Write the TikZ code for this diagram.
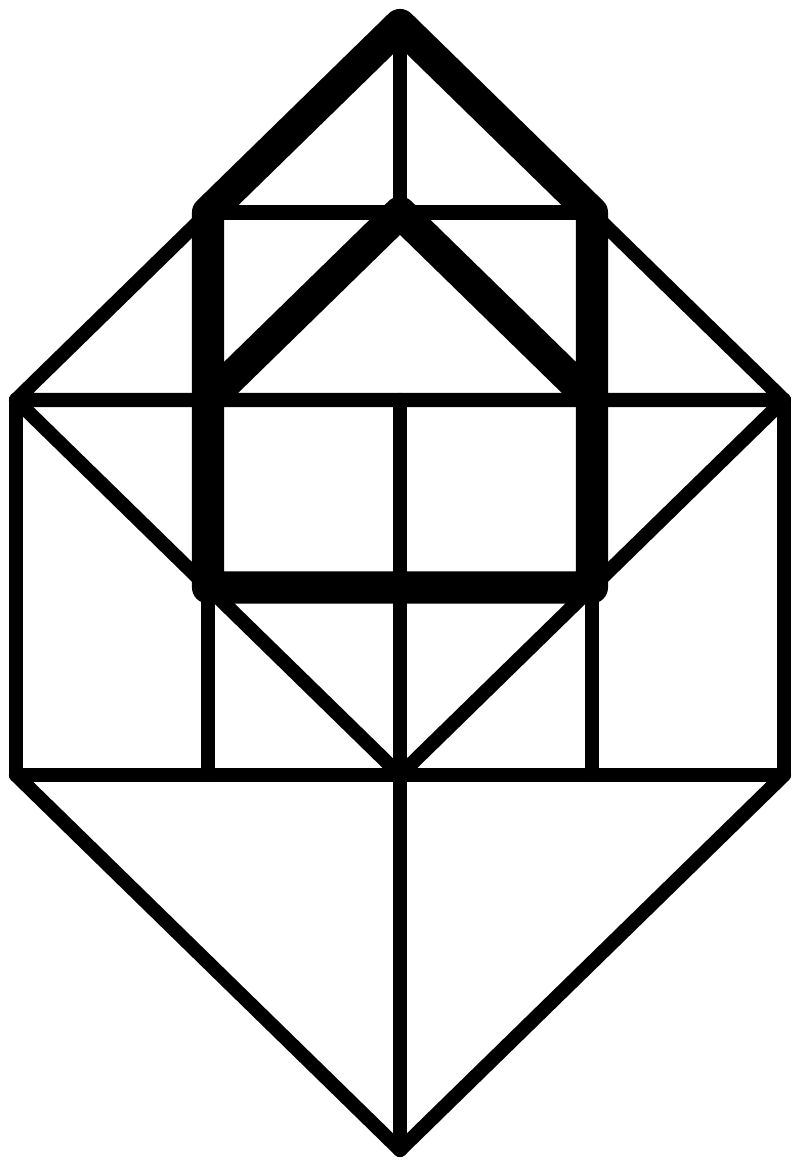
\documentclass[tikz,border=0pt]{standalone}
\usepackage{tikz}
\usetikzlibrary{calc}
\begin{document}
\begin{tikzpicture}[x=1cm, y=0.9766cm, line cap=round, line join=round,
    lattice/.style={line width=2.1pt},
    outline/.style={line width=4.75pt}]
  \useasboundingbox (-2.0833cm,-0.1042cm) rectangle (2.0833cm,5.9896cm);

  % corner points
  \coordinate (top) at (0,6);
  \coordinate (mid) at (0,5);
  \coordinate (bot) at (0,0);

  % thin grid
  \draw [lattice] (-1,5) -- (1,5);
  \draw [lattice] (top) -- (mid);
  \draw [lattice] (-1,5) -- (-2,4) -- (2,4) -- (1,5);
  \draw [lattice] (0,4) -- (bot);
  \draw [lattice] (-2,4) -- (-2,2) -- (2,2) -- (2,4);
  \draw [lattice] (-2,4) -- (0,2) -- (2,4);
  \draw [lattice] (-1,3) -- (-1,2);
  \draw [lattice] (1,3) -- (1,2);
  \draw [lattice] (-2,2) -- (bot) -- (2,2);

  % thick outline
  \draw [outline] (-1,5) -- (top) -- (1,5) -- (1,3) -- (-1,3) -- cycle;
  \draw [outline] (-1,4) -- (mid) -- (1,4);
\end{tikzpicture}
\end{document}
